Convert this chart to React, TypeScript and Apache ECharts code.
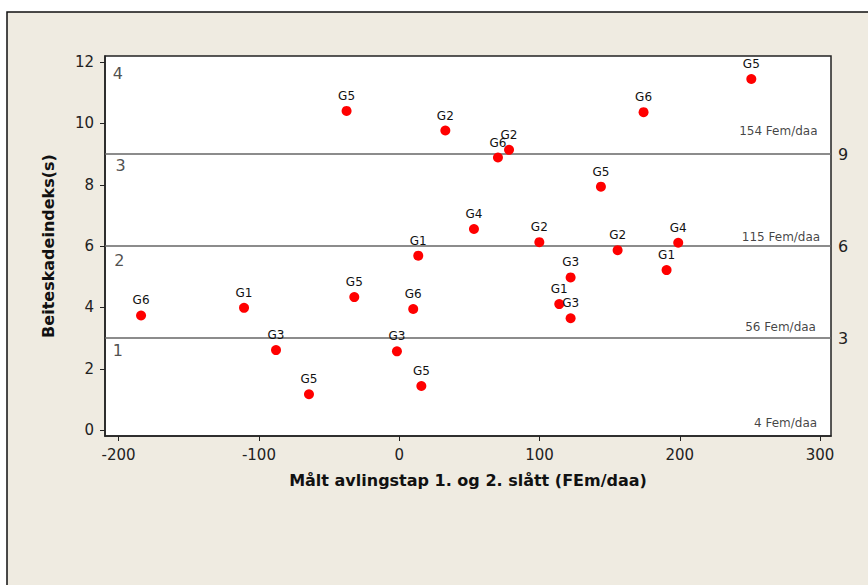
import React, { useEffect, useRef } from "react";
import * as echarts from "echarts";

const groups = ["G6","G1","G3","G5","G5","G5","G3","G5","G6","G1","G4","G2","G6","G2","G2","G3","G1","G3","G5","G2","G6","G1","G4","G5"];
const xValues = [-184.0,-110.6,-87.8,-64.3,-32.0,-37.5,-1.6,15.8,10.0,13.6,53.3,32.9,70.4,78.3,99.9,122.2,114.1,122.2,143.8,155.7,174.2,190.6,198.9,251.0];
const yValues = [3.74,3.99,2.61,1.17,4.34,10.41,2.57,1.44,3.95,5.69,6.56,9.77,8.89,9.14,6.13,4.98,4.11,3.65,7.94,5.87,10.37,5.22,6.11,11.45];

const xTicks = [-200, -100, 0, 100, 200, 300];
const yTicks = [0, 2, 4, 6, 8, 10, 12];
const rightTicks = [3, 6, 9];
const thresholdLines = [3, 6, 9];

const zoneLabels = ["4", "3", "2", "1"];
const zoneX = [-200.5, -198.5, -199.5, -200.5];
const zoneY = [11.64, 8.62, 5.52, 2.61];

const femLabels = ["154 Fem/daa", "115 Fem/daa", "56 Fem/daa", "4 Fem/daa"];
const femX = [298.2, 300.1, 297.1, 297.9];
const femY = [9.76, 6.31, 3.35, 0.25];

const X_MIN = -209.7, X_MAX = 307.8, Y_MIN = -0.19, Y_MAX = 12.2;

export default function App() {
  const ref = useRef<HTMLDivElement>(null);
  useEffect(() => {
    if (!ref.current) return;
    const chart = echarts.init(ref.current, null, { renderer: "svg" });
    const font = "DejaVu Sans";
    chart.setOption({
      animation: false,
      backgroundColor: "#ffffff",
      textStyle: { fontFamily: font },
      graphic: [
        {
          type: "rect",
          z: -10,
          shape: { x: 7, y: 12, width: 900, height: 600 },
          style: { fill: "#EFEBE1", stroke: "#111", lineWidth: 1.5 },
        },
      ],
      grid: {
        left: 105, top: 56, right: 37, bottom: 149,
        show: true, backgroundColor: "#ffffff", borderColor: "#222", borderWidth: 1.5,
      },
      xAxis: {
        type: "value", min: X_MIN, max: X_MAX,
        name: "Målt avlingstap 1. og 2. slått (FEm/daa)",
        nameLocation: "middle", nameGap: 36,
        nameTextStyle: { fontFamily: font, fontSize: 16, fontWeight: "bold", color: "#111" },
        axisLine: { show: true, onZero: false, lineStyle: { color: "#222", width: 1.5 } },
        axisTick: { show: true, length: 5, customValues: xTicks, lineStyle: { color: "#222" } },
        axisLabel: { customValues: xTicks, fontSize: 15, color: "#222", margin: 11, fontFamily: font },
        splitLine: { show: false },
      },
      yAxis: [
        {
          type: "value", min: Y_MIN, max: Y_MAX, position: "left",
          name: "Beiteskadeindeks(s)",
          nameLocation: "middle", nameGap: 49,
          nameTextStyle: { fontFamily: font, fontSize: 16, fontWeight: "bold", color: "#111" },
          axisLine: { show: true, onZero: false, lineStyle: { color: "#222", width: 1.5 } },
          axisTick: { show: true, length: 5, customValues: yTicks, lineStyle: { color: "#222" } },
          axisLabel: { customValues: yTicks, fontSize: 15, color: "#222", margin: 11, fontFamily: font },
          splitLine: { show: false },
        },
        {
          type: "value", min: Y_MIN, max: Y_MAX, position: "right",
          axisLine: { show: false, onZero: false },
          axisTick: { show: false },
          axisLabel: { customValues: rightTicks, fontSize: 16, color: "#222", margin: 7, fontFamily: font },
          splitLine: { show: false },
        },
      ],
      series: [
        {
          type: "scatter",
          symbol: "circle",
          symbolSize: 10,
          itemStyle: { color: "#ff0000", opacity: 1 },
          data: xValues.map((x, i) => ({ value: [x, yValues[i]], name: groups[i] })),
          label: {
            show: true, position: "top", distance: 4,
            formatter: (p: any) => p.name,
            fontSize: 12, color: "#111", fontFamily: font,
          },
          labelLayout: { hideOverlap: false },
          markLine: {
            silent: true, symbol: ["none", "none"],
            label: { show: false },
            lineStyle: { color: "#666", width: 1.5, type: "solid" },
            data: thresholdLines.map((v) => ({ yAxis: v })),
          },
          z: 5,
        },
        {
          type: "scatter",
          symbolSize: 0,
          silent: true,
          data: zoneLabels.map((t, i) => ({ value: [zoneX[i], zoneY[i]], name: t })),
          label: {
            show: true, position: "inside", formatter: (p: any) => p.name,
            fontSize: 16, color: "#222", fontFamily: font,
          },
        },
        {
          type: "scatter",
          symbolSize: 0,
          silent: true,
          data: femLabels.map((t, i) => ({ value: [femX[i], femY[i]], name: t })),
          label: {
            show: true, position: "inside", align: "right", formatter: (p: any) => p.name,
            fontSize: 12, color: "#111", fontFamily: font,
          },
        },
      ],
    });
    return () => chart.dispose();
  }, []);
  return (
    <div
      ref={ref}
      style={{ position: "fixed", left: 0, top: 0, width: 868, height: 585 }}
    />
  );
}
